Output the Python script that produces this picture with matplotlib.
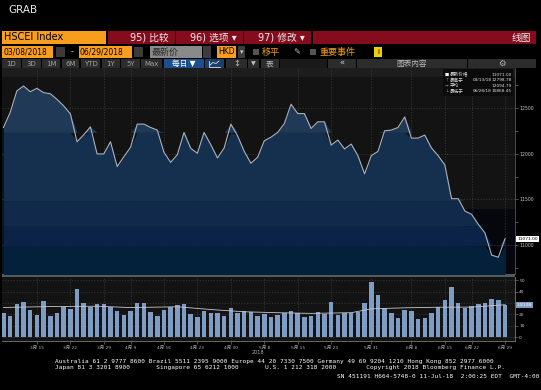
import matplotlib
matplotlib.use("Agg")
import matplotlib.pyplot as plt
import matplotlib.ticker as mticker
import matplotlib.transforms as mtrans
from matplotlib.patches import Rectangle
import numpy as np

plt.rcParams["font.family"] = ["DejaVu Sans", "Noto Sans CJK SC"]

# HSCEI daily closes 03/08/2018 - 06/29/2018
prices = [
    12286, 12449, 12685, 12739, 12677, 12714, 12666, 12655, 12594, 12522,
    12435, 12130, 12206, 12293, 11997, 11997, 12130, 11859, 11967, 12069,
    12323, 12323, 12286, 12258, 12014, 11905, 11989, 12232, 12058, 12004,
    12232, 12098, 11953, 12062, 12323, 12196, 12025, 11895, 11960, 12141,
    12180, 12232, 12329, 12540, 12438, 12438, 12275, 12348, 12348, 12094,
    12149, 12051, 12105, 11978, 11779, 11978, 12025, 12250, 12258, 12286,
    12402, 12170, 12170, 12203, 12062, 11978, 11877, 11508, 11508, 11373,
    11337, 11228, 11134, 10891, 10868, 11071,
]
volume = [
    21.0, 18.2, 28.8, 30.9, 23.4, 19.3, 32.0, 18.5, 21.0, 26.8,
    24.5, 42.2, 30.3, 26.0, 29.2, 29.2, 26.0, 22.8, 19.3, 23.1,
    30.3, 30.3, 21.9, 18.2, 24.2, 26.6, 28.0, 28.8, 20.5, 17.3,
    22.5, 20.8, 21.0, 18.5, 25.1, 20.8, 22.8, 22.2, 18.2, 20.5,
    17.6, 19.6, 21.0, 22.8, 21.0, 17.3, 18.5, 22.2, 20.2, 31.2,
    19.0, 20.8, 21.4, 21.6, 30.0, 48.7, 37.2, 25.1, 21.0, 17.0,
    23.4, 22.8, 16.2, 17.0, 20.8, 26.8, 32.9, 44.4, 30.0, 25.7,
    27.7, 29.2, 30.0, 33.8, 32.6, 28.1,
]
vol_ma_idx = [0, 7, 14, 19, 26, 31, 36, 41, 46, 52, 55, 60, 65, 70, 75]
vol_ma = [26.0, 26.8, 27.1, 25.9, 26.6, 24.2, 22.2, 21.4, 20.8, 21.4,
          24.8, 25.7, 26.2, 26.3, 28.4]

tick_idx = [5, 10, 15, 19, 24, 29, 34, 39, 44, 49, 55, 61, 66, 70, 75]
tick_labels = ["3月 15", "3月 22", "3月 29", "4月 9", "4月 16", "4月 23", "4月 30",
               "5月 8", "5月 15", "5月 23", "5月 31", "6月 8", "6月 15", "6月 22",
               "6月 29"]
vol_ticks = [0, 10, 20, 30, 40, 50]
vol_tick_labels = ["0", "10", "20", "", "40", "50"]  # 30 sits under the value box

band_edges = [10600, 10992, 11211, 11486, 12233, 13000]
band_colors = ["#03213b", "#0c2348", "#112a4c", "#152f4f", "#1f3956"]

legend_rows = [
    ("■", "最新价格", "", "11071.00"),
    ("↑", "最高于", "03/13/18", "12798.78"),
    ("→", "平均", "", "12094.79"),
    ("↓", "最低于", "06/28/18", "10868.45"),
]

W, H = 541, 390
ORANGE = "#f99d1c"
RED = "#850c1c"
BTN = "#2c2c2c"

fig = plt.figure(figsize=(W / 100, H / 100), dpi=100, facecolor="black")


def px_axes(x0, y0, x1, y1):
    return fig.add_axes([x0 / W, 1 - y1 / H, (x1 - x0) / W, (y1 - y0) / H])


# background layer in pixel coordinates (toolbar, footer)
bg = px_axes(0, 0, W, H)
bg.set_xlim(0, W)
bg.set_ylim(H, 0)
bg.axis("off")


def box(x0, y0, x1, y1, color, ax=bg):
    ax.add_patch(Rectangle((x0, y0), x1 - x0, y1 - y0, color=color, lw=0))


def label(x, y, s, ax=bg, **kw):
    kw.setdefault("va", "center")
    kw.setdefault("fontsize", 6)
    ax.text(x, y, s, **kw)


label(8, 10, "GRAB", color="#e8e8e8", fontsize=7.5)

# row 1
box(2, 31, 106, 44, ORANGE)
label(4, 37.5, "HSCEI Index", color="black", fontsize=7)
for x0, x1, s in [(108, 175, "95) 比较"), (176, 243, "96) 选项 ▾"), (244, 311, "97) 修改 ▾")]:
    box(x0, 31, x1, 44, RED)
    label(x1 - 6, 37.5, s, color="#eeeeee", fontsize=7, ha="right")
box(313, 31, 536, 44, RED)
label(531, 37.5, "线图", color="#eeeeee", fontsize=7, ha="right")

# row 2
box(2, 46, 53, 58, ORANGE)
label(3, 52, "03/08/2018", color="black", fontsize=5.5)
box(56, 47, 65, 57, "#3a3a3a")
label(72, 52, "-", color="#cccccc", fontsize=6, ha="center")
box(79, 46, 132, 58, ORANGE)
label(80, 52, "06/29/2018", color="black", fontsize=5.5)
box(134, 47, 143, 57, "#3a3a3a")
box(150, 46, 202, 58, "#8a8a8a")
label(152, 52, "最新价", color="#2a2a2a", fontsize=6.5)
box(203, 46, 211, 58, "#3c3c3c")
box(217, 46, 236, 58, ORANGE)
label(218, 52, "HKD", color="black", fontsize=5.5)
box(238, 46, 245, 58, "#3c3c3c")
label(241.5, 52, "▾", color="#cccccc", fontsize=5, ha="center")
box(253, 49, 259, 55, "#555555")
label(262, 52, "移平", color="#f39c12", fontsize=6.5)
label(293, 52, "✎", color="#bbbbbb", fontsize=6)
box(310, 49, 316, 55, "#555555")
label(320, 52, "重要事件", color="#f39c12", fontsize=6.5)
box(374, 47, 382, 57, "#f0d000")
label(378, 52, "i", color="black", fontsize=5, ha="center")

# row 3
for s, x0, x1 in [("1D", 2, 21), ("3D", 22, 41), ("1M", 42, 60), ("6M", 62, 79),
                  ("YTD", 81, 100), ("1Y", 102, 120), ("5Y", 121, 140), ("Max", 141, 162)]:
    box(x0, 59, x1, 68, BTN)
    label((x0 + x1) / 2, 63.5, s, color="#a0a0a0", fontsize=5, ha="center")
box(164, 59, 204, 68, "#1d4f8c")
label(184, 63.5, "每日 ▼", color="white", fontsize=5.5, ha="center")
box(205, 59, 224, 68, "#1a3f6b")
# little line-chart icon
bg.plot([209, 209, 220], [60.5, 66.5, 66.5], color="white", lw=0.5)
bg.plot([210, 213, 216, 219], [65, 62.5, 63.5, 61], color="white", lw=0.5)
box(226, 59, 247, 68, BTN)
label(236.5, 63.5, "↕", color="#bbbbbb", fontsize=6, ha="center")
box(248, 59, 259, 68, BTN)
label(253.5, 63.5, "▼", color="#bbbbbb", fontsize=4.5, ha="center")
box(261, 59, 279, 68, BTN)
label(270, 63.5, "表", color="#bbbbbb", fontsize=5.5, ha="center")
box(280, 59, 327, 68, "#1a1a1a")
box(328, 59, 356, 68, BTN)
label(342, 63.5, "«", color="#cccccc", fontsize=6, ha="center")
box(357, 59, 467, 68, BTN)
label(412, 63.5, "图表内容", color="#bbbbbb", fontsize=5.5, ha="center")
box(468, 59, 536, 68, BTN)
label(502, 63.5, "⚙", color="#bbbbbb", fontsize=6, ha="center")

# separator between panels
box(2, 274, 515, 276.5, "#555a60")

# footer
mono = dict(family=["DejaVu Sans Mono"], color="white", fontsize=4.4)
label(55, 361, "Australia 61 2 9777 8600 Brazil 5511 2395 9000 Europe 44 20 7330 7500 "
      "Germany 49 69 9204 1210 Hong Kong 852 2977 6000", **mono)
label(55, 368, "Japan 81 3 3201 8900       Singapore 65 6212 1000       "
      "U.S. 1 212 318 2000        Copyright 2018 Bloomberg Finance L.P.", **mono)
label(337, 376, "SN 451191 H664-5748-0 11-Jul-18  2:00:25 EDT  GMT-4:00", **mono)
label(258, 352, "2018", color="#b0b0b0", fontsize=3.5, ha="center")

x = np.arange(len(prices))
p = np.array(prices, dtype=float)
xlim = (-0.22, 76.49)

# ---- price panel ----
ax = px_axes(2, 68, 515, 274)
ax.set_facecolor("#131313")
ax.set_xlim(*xlim)
ax.set_ylim(10685, 12936)
ax.add_patch(Rectangle((0, 0.956), 1, 0.044, transform=ax.transAxes,
                       color="#1d1d1d", lw=0, zorder=0))
ax.add_patch(Rectangle((68.7, 10685), 10, 11399 - 10685, color="#06060d", lw=0, zorder=0.5))
for lo, hi, c in zip(band_edges[:-1], band_edges[1:], band_colors):
    ax.fill_between(x, lo, np.clip(p, lo, hi), color=c, lw=0, zorder=2)
ax.plot(x, p, color="#aab2bc", lw=0.8, zorder=3)

ax.set_xticks(tick_idx)
ax.yaxis.set_major_locator(mticker.MultipleLocator(500))
ax.yaxis.set_minor_locator(mticker.MultipleLocator(250))
ax.yaxis.tick_right()
ax.tick_params(axis="x", length=0, labelbottom=False)
ax.tick_params(axis="y", which="both", direction="out", length=2, width=0.4,
               color="#888888", labelsize=3.3, labelcolor="#c8c8c8", pad=1)
ax.grid(True, which="major", ls=(0, (2, 2)), color="#3a3a3a", lw=0.5, zorder=1)
for s in ["top", "left", "bottom"]:
    ax.spines[s].set_visible(False)
ax.spines["right"].set_color("#555555")
ax.spines["right"].set_linewidth(0.6)
tr = mtrans.blended_transform_factory(ax.transAxes, ax.transData)
ax.text(1.004, prices[-1], "11071.00", transform=tr, fontsize=3.2, color="black",
        va="center", ha="left", zorder=6,
        bbox=dict(fc="white", ec="none", pad=0.7))

# legend box in pixel coords (foreground layer)
fg = px_axes(0, 0, W, H)
fg.set_xlim(0, W)
fg.set_ylim(H, 0)
fg.axis("off")
fg.patch.set_visible(False)
box(443, 69, 513, 96, "#0b0b0b", ax=fg)
for k, (mark, name, date, val) in enumerate(legend_rows):
    yy = 74.5 + k * 5.6
    label(446.5, yy, mark, ax=fg, color="white" if k == 0 else "#999999", fontsize=3.2, ha="center")
    label(450, yy, name, ax=fg, color="#e0e0e0", fontsize=3.3)
    if date:
        label(473, yy, date, ax=fg, color="#e0e0e0", fontsize=3.1)
    label(512, yy, val, ax=fg, color="#e0e0e0", fontsize=3.1, ha="right")

# ---- volume panel ----
av = px_axes(2, 277, 515, 341)
av.set_facecolor("#131313")
av.set_xlim(*xlim)
av.set_ylim(-3.5, 52.8)
av.bar(x, volume, width=0.68, color="#7f9cc4", lw=0, zorder=2)
av.plot(vol_ma_idx, vol_ma, color="#c8c8c8", lw=0.6, zorder=3)
av.set_xticks(tick_idx)
av.set_xticklabels(tick_labels)
av.set_xticks(x, minor=True)
av.set_yticks(vol_ticks)
av.set_yticklabels(vol_tick_labels)
av.yaxis.tick_right()
av.tick_params(axis="x", which="major", length=2.5, width=0.4, color="#888888",
               labelsize=3.2, labelcolor="#b0b0b0", pad=1.2)
av.tick_params(axis="x", which="minor", length=1, width=0.3, color="#666666")
av.tick_params(axis="y", direction="out", length=2, width=0.4, color="#888888",
               labelsize=3.2, labelcolor="#c8c8c8", pad=1)
av.grid(True, which="major", ls=(0, (2, 2)), color="#3a3a3a", lw=0.5, zorder=1)
for s in ["top", "left"]:
    av.spines[s].set_visible(False)
for s in ["right", "bottom"]:
    av.spines[s].set_color("#777777")
    av.spines[s].set_linewidth(0.6)
trv = mtrans.blended_transform_factory(av.transAxes, av.transData)
av.text(1.004, volume[-1], "2.810B", transform=trv, fontsize=3.2, color="white",
        va="center", ha="left", zorder=6,
        bbox=dict(fc="#7f9cc4", ec="none", pad=0.7))
box(3, 278, 47, 288, "#1c1c1c", ax=fg)
label(5, 283, "≡", ax=fg, color="#888888", fontsize=3.5)
box(10, 281, 14, 285, "#7f9cc4", ax=fg)
label(16, 283, "成交量", ax=fg, color="#dddddd", fontsize=3.4)
label(31, 283, "2.810B", ax=fg, color="#bbbbbb", fontsize=3)

fig.savefig("out.png", dpi=100, facecolor="black")
